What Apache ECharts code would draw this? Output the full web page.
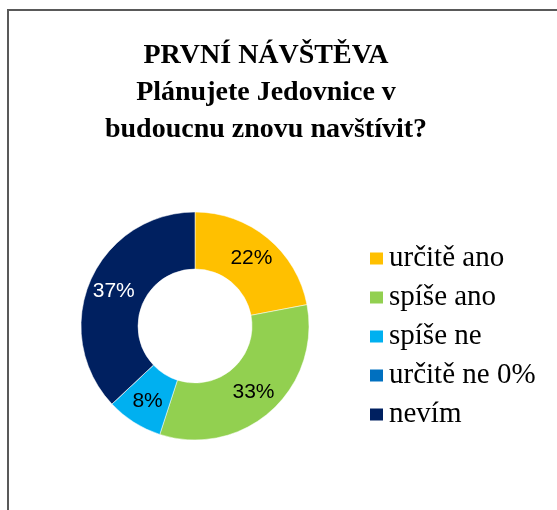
<!DOCTYPE html>
<html><head><meta charset="utf-8">
<script src="https://cdn.jsdelivr.net/npm/echarts@6/dist/echarts.min.js"></script>
<style>
html,body{margin:0;padding:0;background:#fff;}
#frame{position:absolute;left:7px;top:9px;width:700px;height:700px;border-left:2px solid #595959;border-top:2px solid #595959;}
#main{position:absolute;left:0;top:0;width:557px;height:510px;}
</style></head>
<body>
<div id="frame"></div>
<div id="main"></div>
<script>
const titleLines = ['PRVNÍ NÁVŠTĚVA', 'Plánujete Jedovnice v', 'budoucnu znovu navštívit?'];
const categories = ['určitě ano', 'spíše ano', 'spíše ne', 'určitě ne', 'nevím'];
const values = [22, 33, 8, 0, 37];
const colors = ['#FFC000', '#92D050', '#00B0F0', '#0070C0', '#002060'];
const labelColors = ['#000', '#000', '#000', '#000', '#fff'];

const total = values.reduce((a, b) => a + b, 0);
const chart = echarts.init(document.getElementById('main'));
chart.setOption({
  animation: false,
  backgroundColor: 'transparent',
  title: {
    text: titleLines.join('\n'),
    left: 266, top: 37, textAlign: 'center', padding: 0,
    textStyle: {fontFamily: 'Liberation Serif', fontWeight: 'bold', fontSize: 28, lineHeight: 37, color: '#000'}
  },
  legend: {
    orient: 'vertical', left: 368, top: 244, padding: 0,
    itemWidth: 15, itemHeight: 14, itemGap: 10,
    icon: 'rect',
    data: categories,
    formatter: function (name) {
      const i = categories.indexOf(name);
      return values[i] === 0 ? name + ' ' + Math.round(values[i] / total * 100) + '%' : name;
    },
    textStyle: {fontFamily: 'Liberation Serif', fontSize: 29, lineHeight: 29, color: '#000'}
  },
  series: [{
    type: 'pie',
    center: [195, 326],
    radius: [57, 114],
    startAngle: 90,
    clockwise: true,
    avoidLabelOverlap: false,
    itemStyle: {borderColor: '#fff', borderWidth: 0.5},
    label: {
      position: 'inside',
      fontFamily: 'Liberation Sans', fontSize: 21,
      formatter: p => Math.round(p.value / total * 100) + '%'
    },
    labelLine: {show: false},
    emphasis: {disabled: true},
    data: categories.map((c, i) => ({
      name: c, value: values[i],
      itemStyle: {color: colors[i]},
      label: {show: values[i] > 0, color: labelColors[i]}
    }))
  }]
});
</script>
</body></html>
